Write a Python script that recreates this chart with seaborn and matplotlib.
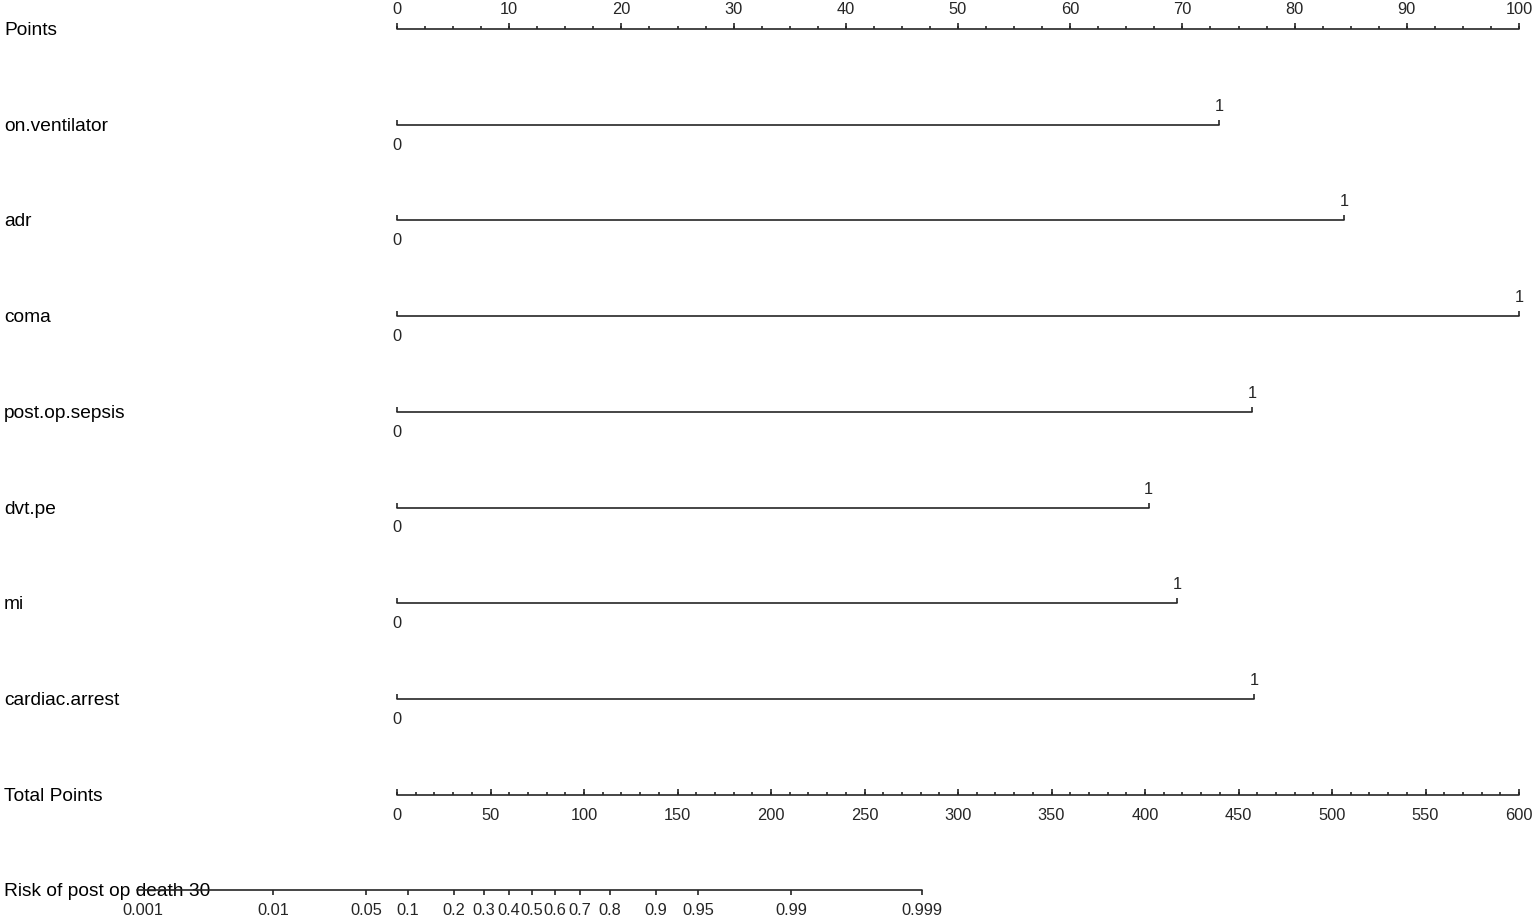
import numpy as np
import pandas as pd
import matplotlib
matplotlib.use("Agg")
import matplotlib.pyplot as plt
import seaborn as sns

# predictors and the points reached at level "1" (level "0" is always 0)
variables = ["on.ventilator", "adr", "coma", "post.op.sepsis", "dvt.pe", "mi", "cardiac.arrest"]
points_at_one = [73.3, 84.4, 100.0, 76.2, 67.0, 69.5, 76.4]

points_major = [0, 10, 20, 30, 40, 50, 60, 70, 80, 90, 100]
total_major = [0, 50, 100, 150, 200, 250, 300, 350, 400, 450, 500, 550, 600]
total_max = 600

# risk scale: total points at 50% risk and points per logit unit
risk_ticks = [0.001, 0.01, 0.05, 0.1, 0.2, 0.3, 0.4, 0.5, 0.6, 0.7, 0.8, 0.9, 0.95, 0.99, 0.999]
risk_labels = ["0.001", "0.01", "0.05", "0.1", "0.2", "0.3", "0.4", "0.5", "0.6", "0.7",
               "0.8", "0.9", "0.95", "0.99", "0.999"]
tp_at_half = 72.2
tp_per_logit = 30.16

sns.set_theme(style="white")
plt.rcParams["font.family"] = ["Liberation Sans", "DejaVu Sans"]

LC = "#262626"
LW = 1.2
px = 1122 / 100  # pixels per point on the points scale

fig = plt.figure(figsize=(15.35, 9.19), dpi=100)
ax = fig.add_axes([0, 0, 1, 1])

row_y = [29 + i * 95.7 for i in range(10)]
label_fs = 13.8
tick_fs = 11.8


def to_pts(total):
    return np.asarray(total, dtype=float) * 100 / total_max


def risk_to_pts(p):
    p = np.asarray(p, dtype=float)
    logit = np.log(p / (1 - p))
    return to_pts(tp_at_half + tp_per_logit * logit)


# all horizontal scale lines through seaborn
segs = []
segs.append(("Points", 0, row_y[0]))
segs.append(("Points", 100, row_y[0]))
for i, (v, p1) in enumerate(zip(variables, points_at_one)):
    segs.append((v, 0, row_y[i + 1]))
    segs.append((v, p1, row_y[i + 1]))
segs.append(("Total Points", 0, row_y[8]))
segs.append(("Total Points", 100, row_y[8]))
r0, r1 = risk_to_pts([risk_ticks[0], risk_ticks[-1]])
segs.append(("Risk", r0 - 0.45, row_y[9]))
segs.append(("Risk", r1, row_y[9]))
seg_df = pd.DataFrame(segs, columns=["scale", "x", "y"])
sns.lineplot(data=seg_df, x="x", y="y", units="scale", estimator=None, sort=False,
             color=LC, linewidth=LW, ax=ax, zorder=3)
ax.set_xlim(-397 / px, (1535 - 397) / px)
ax.set_ylim(919, 0)
ax.axis("off")

# row labels
row_names = ["Points"] + variables + ["Total Points", "Risk of post op death 30"]
for name, y in zip(row_names, row_y):
    ax.text(-393 / px, y + 1.5, name, fontsize=label_fs, va="center", ha="left",
            color="black", zorder=1)

# points scale ticks
y0 = row_y[0]
minor = np.arange(0, 100.01, 2.5)
ax.vlines(minor, y0 - 3, y0, color=LC, linewidth=LW)
ax.vlines(points_major, y0 - 6, y0, color=LC, linewidth=LW)
for t in points_major:
    ax.text(t, y0 - 12, str(t), fontsize=tick_fs, ha="center", va="bottom")

# predictor scales
for i, p1 in enumerate(points_at_one):
    y = row_y[i + 1]
    ax.vlines([0, p1], y - 5, y, color=LC, linewidth=LW)
    ax.text(0, y + 13, "0", fontsize=tick_fs, ha="center", va="top")
    ax.text(p1, y - 11, "1", fontsize=tick_fs, ha="center", va="bottom")

# total points ticks
y8 = row_y[8]
ax.vlines(to_pts(np.arange(0, total_max + 1, 10)), y8 - 3, y8, color=LC, linewidth=LW)
ax.vlines(to_pts(total_major), y8 - 6, y8, color=LC, linewidth=LW)
for t in total_major:
    ax.text(to_pts(t), y8 + 13, str(t), fontsize=tick_fs, ha="center", va="top")

# risk ticks (the first one sits under the row label)
y9 = row_y[9]
rx = risk_to_pts(risk_ticks)
ax.vlines(rx[1:], y9, y9 + 5, color=LC, linewidth=LW, zorder=3)
for x, lab in zip(rx, risk_labels):
    ax.text(x, y9 + 13, lab, fontsize=tick_fs, ha="center", va="top")

fig.savefig("out.png", dpi=100)
